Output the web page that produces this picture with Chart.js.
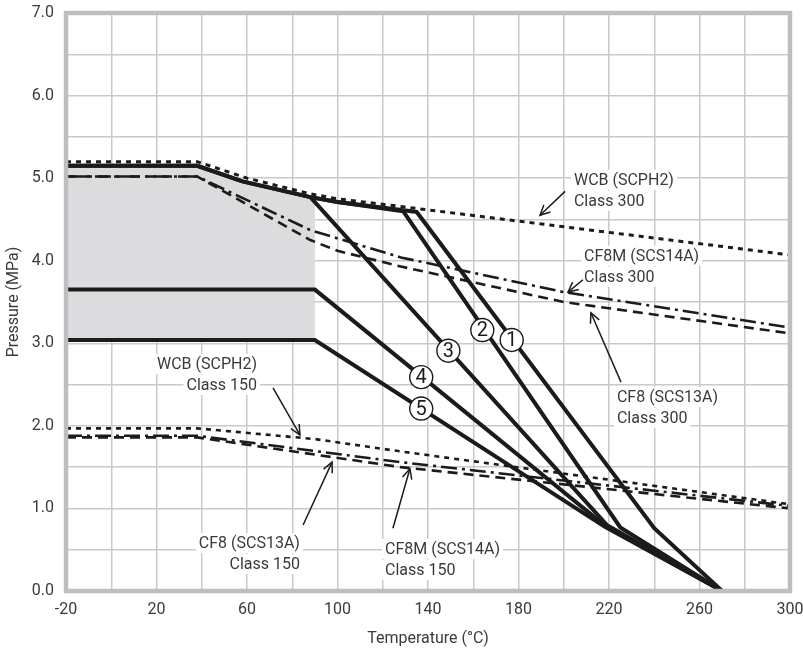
<!DOCTYPE html>
<html><head><meta charset="utf-8">
<script src="https://cdn.jsdelivr.net/npm/chart.js@4"></script>
<style>html,body{margin:0;padding:0;background:#fff;}canvas{display:block;}</style>
</head><body>
<canvas id="c" width="803" height="653"></canvas>
<script>
const FONT = "Roboto, 'Liberation Sans', sans-serif";
const TXT = '#3a3a3a';
const INK = '#1b1b1b';

// Valve rating curves (temperature °C, pressure MPa)
const curve1T = [-20, 38, 58, 88, 100, 135, 240, 270];
const curve1P = [5.15, 5.15, 4.96, 4.77, 4.71, 4.59, 0.76, 0];
const curve2T = [-20, 38, 58, 88, 100, 129, 225, 270];
const curve2P = [5.15, 5.15, 4.96, 4.77, 4.71, 4.60, 0.77, 0];
const curve3T = [88, 219, 270];
const curve3P = [4.77, 0.80, 0];
const curve4T = [-20, 90, 216, 270];
const curve4P = [3.65, 3.65, 0.84, 0];
const curve5T = [-20, 90, 218, 270];
const curve5P = [3.04, 3.04, 0.78, 0];

// Shaded region
const shadeT = [-20, 38, 58, 88, 90];
const shadeP = [5.15, 5.15, 4.96, 4.77, 4.76];
const shadeBase = 3.04;

// Body material limits
const wcb300T = [-20, 38, 60, 88, 100, 130, 300];
const wcb300P = [5.20, 5.20, 5.00, 4.81, 4.75, 4.65, 4.07];
const cf8m300T = [-20, 38, 88, 128, 200, 300];
const cf8m300P = [5.02, 5.02, 4.37, 4.04, 3.62, 3.19];
const cf8300T = [-20, 38, 88, 100, 128, 200, 300];
const cf8300P = [5.02, 5.02, 4.25, 4.12, 3.93, 3.50, 3.12];
const wcb150T = [-20, 38, 90, 128, 300];
const wcb150P = [1.97, 1.97, 1.84, 1.69, 1.05];
const cf8m150T = [-20, 38, 128, 300];
const cf8m150P = [1.88, 1.88, 1.56, 1.03];
const cf8150T = [-20, 38, 128, 300];
const cf8150P = [1.86, 1.86, 1.50, 1.00];

// Circled curve numbers
const markNums = ['1', '2', '3', '4', '5'];
const markT = [177, 164, 149, 137, 137];
const markP = [3.04, 3.16, 2.91, 2.59, 2.21];

// Material labels
const labelLines = [
  ['WCB (SCPH2)', 'Class 300'],
  ['CF8M (SCS14A)', 'Class 300'],
  ['CF8 (SCS13A)', 'Class 300'],
  ['WCB (SCPH2)', 'Class 150'],
  ['CF8 (SCS13A)', 'Class 150'],
  ['CF8M (SCS14A)', 'Class 150']
];
const labelAlign = ['left', 'left', 'left', 'right', 'right', 'left'];
const labelT = [204.5, 209, 223.5, 64.4, 83.4, 121];
const labelP = [4.98, 4.06, 2.35, 2.75, 0.58, 0.51];
const arrowFromT = [200.6, 208.5, 225.3, 71.5, 84.8, 124.5];
const arrowFromP = [4.84, 3.77, 2.53, 2.46, 0.80, 0.76];
const arrowToT = [189.5, 201.9, 212.0, 83.4, 97.6, 132.0];
const arrowToP = [4.55, 3.62, 3.37, 1.89, 1.56, 1.48];

const pts = (T, P) => T.map((t, i) => ({x: t, y: P[i]}));

function line(T, P, dash, width) {
  return {data: pts(T, P), borderColor: INK, borderWidth: width, borderDash: dash,
    pointRadius: 0, fill: false, tension: 0, order: 1, borderCapStyle: 'butt', borderJoinStyle: 'miter'};
}

const datasets = [
  {data: pts(shadeT, shadeP), borderWidth: 0, borderColor: 'rgba(0,0,0,0)', backgroundColor: '#dcdcde',
    fill: {value: shadeBase}, pointRadius: 0, order: 10},
  line(wcb300T, wcb300P, [5, 5], 3),
  line(cf8m300T, cf8m300P, [16, 5, 3, 5], 2.6),
  line(cf8300T, cf8300P, [10, 6], 2.6),
  line(wcb150T, wcb150P, [5, 5], 2.6),
  line(cf8m150T, cf8m150P, [16, 5, 3, 5], 2.6),
  line(cf8150T, cf8150P, [10, 6], 2.6),
  line(curve1T, curve1P, [], 4),
  line(curve2T, curve2P, [], 4),
  line(curve3T, curve3P, [], 4),
  line(curve4T, curve4P, [], 4),
  line(curve5T, curve5P, [], 4)
];

const framePlugin = {
  id: 'frame',
  afterDatasetsDraw(chart) {
    const a = chart.chartArea, ctx = chart.ctx;
    ctx.save();
    ctx.strokeStyle = '#bdbec0';
    ctx.lineWidth = 4.5;
    ctx.strokeRect(a.left, a.top, a.right - a.left, a.bottom - a.top);
    ctx.restore();
  },
  afterDraw(chart) {
    const ctx = chart.ctx, xs = chart.scales.x, ys = chart.scales.y;
    ctx.save();
    ctx.font = '16px ' + FONT;
    ctx.textBaseline = 'middle';
    labelLines.forEach((lines, i) => {
      const x = xs.getPixelForValue(labelT[i]);
      const y = ys.getPixelForValue(labelP[i]);
      lines.forEach((s, k) => {
        const w = ctx.measureText(s).width;
        const yy = y + k * 21;
        const x0 = labelAlign[i] === 'left' ? x : x - w;
        ctx.fillStyle = '#fff';
        ctx.fillRect(x0 - 3, yy - 10, w + 6, 20);
        ctx.fillStyle = TXT;
        ctx.textAlign = 'left';
        ctx.fillText(s, x0, yy + 1);
      });
      const x1 = xs.getPixelForValue(arrowFromT[i]), y1 = ys.getPixelForValue(arrowFromP[i]);
      const x2 = xs.getPixelForValue(arrowToT[i]), y2 = ys.getPixelForValue(arrowToP[i]);
      ctx.strokeStyle = INK; ctx.lineWidth = 1.5;
      ctx.beginPath(); ctx.moveTo(x1, y1); ctx.lineTo(x2, y2); ctx.stroke();
      const ang = Math.atan2(y2 - y1, x2 - x1), L = 11, spread = 0.45;
      ctx.beginPath();
      ctx.moveTo(x2 - L * Math.cos(ang - spread), y2 - L * Math.sin(ang - spread));
      ctx.lineTo(x2, y2);
      ctx.lineTo(x2 - L * Math.cos(ang + spread), y2 - L * Math.sin(ang + spread));
      ctx.stroke();
    });
    markNums.forEach((n, i) => {
      const x = xs.getPixelForValue(markT[i]), y = ys.getPixelForValue(markP[i]);
      ctx.beginPath(); ctx.arc(x, y, 11.5, 0, Math.PI * 2);
      ctx.fillStyle = '#fff'; ctx.fill();
      ctx.lineWidth = 1.4; ctx.strokeStyle = INK; ctx.stroke();
      ctx.fillStyle = INK; ctx.textAlign = 'center'; ctx.textBaseline = 'middle';
      ctx.font = '20px Roboto, sans-serif';
      ctx.fillText(n, x, y + 1);
    });
    ctx.restore();
  }
};

new Chart(document.getElementById('c'), {
  type: 'line',
  data: {datasets},
  options: {
    responsive: false,
    animation: false,
    devicePixelRatio: 1,
    layout: {padding: {top: 13, right: 13, left: 0, bottom: 0}},
    plugins: {legend: {display: false}, tooltip: {enabled: false}},
    scales: {
      x: {
        type: 'linear', min: -20, max: 300,
        afterFit: s => { s.height = 62; s.paddingRight = 0; s.paddingLeft = 0; },
        ticks: {stepSize: 20, autoSkip: false, maxRotation: 0, padding: 9, color: TXT,
          font: {family: FONT, size: 16},
          callback: v => ((v + 20) % 40 === 0 ? String(v) : '')},
        grid: {color: '#c9c9c9', lineWidth: 1.5, drawTicks: false},
        border: {display: false},
        title: {display: true, text: 'Temperature (°C)', color: TXT, font: {family: FONT, size: 16}, padding: {top: 5}}
      },
      y: {
        min: 0, max: 7,
        afterFit: s => { s.width = 66; s.paddingTop = 0; s.paddingBottom = 0; },
        ticks: {stepSize: 0.5, autoSkip: false, padding: 12, color: TXT,
          font: {family: FONT, size: 16},
          callback: v => (Math.abs(v - Math.round(v)) < 1e-9 ? v.toFixed(1) : '')},
        grid: {color: '#c9c9c9', lineWidth: 1.5, drawTicks: false},
        border: {display: false},
        title: {display: true, text: 'Pressure (MPa)', color: TXT, font: {family: FONT, size: 16}, padding: {bottom: 4}}
      }
    }
  },
  plugins: [framePlugin]
});
</script>
</body></html>
